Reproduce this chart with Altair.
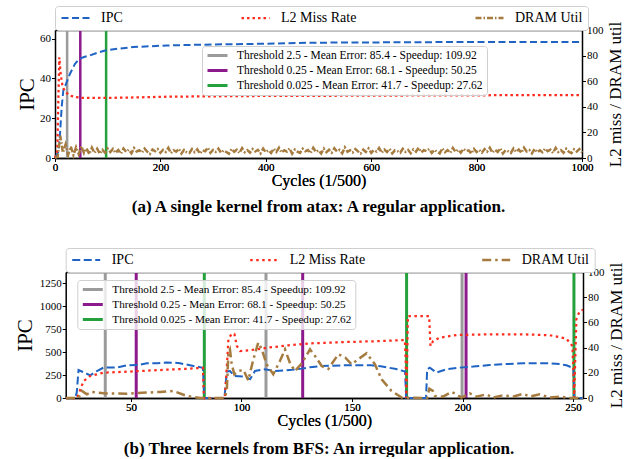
import altair as alt
import pandas as pd

FONT = "Liberation Serif"

SERIES = ["IPC", "L2 Miss Rate", "DRAM Util"]
SERIES_COLORS = ["#1f64c4", "#ff2b1c", "#a67b3f"]
THRESHOLDS = [
    "Threshold 2.5 - Mean Error: 85.4 - Speedup: 109.92",
    "Threshold 0.25 - Mean Error: 68.1 - Speedup: 50.25",
    "Threshold 0.025 - Mean Error: 41.7 - Speedup: 27.62",
]
THR_COLORS = ["#9b9b9b", "#8c1a8c", "#24a13c"]

# ---------------- panel (a): atax ----------------
a_ipc_x = [0, 6, 8, 9.5, 12.7, 15.8, 20.9, 28.5, 38, 46, 55, 66, 80, 95, 120, 148, 180, 212,
           260, 320, 400, 480, 560, 640, 720, 800, 900, 1000]
a_ipc_y = [0, 3, 7, 12, 25.7, 34, 37.3, 42.4, 47.4, 49.8, 50.8, 51.6, 52.9, 54.1, 55.0, 55.8,
           56.2, 56.6, 56.9, 57.2, 57.5, 58.0, 58.1, 58.2, 58.3, 58.3, 58.3, 58.3]
a_l2_x = [0, 4.4, 6, 8.2, 10.8, 14.6, 19, 23, 28.5, 40, 53.7, 91.7, 150, 212, 300, 400, 500,
          600, 700, 800, 900, 1000]
a_l2_y = [0, 5.7, 40, 78.6, 65.6, 55.2, 52.6, 50.5, 48.7, 47.5, 46.9, 46.9, 47.3, 47.9, 48.2,
          48.5, 48.6, 48.7, 48.9, 49.0, 49.1, 49.2]
a_dram_x = list(range(0, 1001, 5))
a_dram_y = [
    0, 1.0, 17.5, 4.2, 10.5, 2.6, 9.0, 2.2, 8.4, 3.1, 9.2, 3.8, 7.5, 2.9, 8.1, 4.0, 7.2, 3.3, 6.4, 4.1, 7.3,
    4.6, 7.1, 3.9, 6.2, 3.4, 7.4, 4.8, 6.5, 3.7, 7.8,
    5.1, 6.0, 4.2, 7.3, 4.9, 3.2, 6.6, 5.3, 7.0, 4.1,
    6.3, 4.7, 7.9, 3.8, 6.1, 5.0, 7.2, 3.5, 6.4, 4.4,
    3.9, 7.0, 4.6, 6.8, 3.3, 6.0, 5.2, 8.1, 4.0, 6.3,
    4.8, 7.3, 4.1, 5.9, 4.7, 3.4, 7.1, 4.9, 6.5, 3.8,
    7.7, 4.6, 6.2, 4.2, 7.0, 5.1, 6.4, 3.6, 7.3, 4.5,
    6.0, 3.9, 7.4, 4.8, 8.0, 4.3, 6.1, 5.0, 7.5, 3.4,
    6.6, 4.9, 4.0, 7.2, 5.3, 6.2, 3.8, 7.9, 4.7, 6.0,
    3.5, 7.3, 4.6, 6.4, 4.2, 7.6, 5.0, 6.3, 3.7, 8.2,
    4.9, 6.1, 4.3, 7.0, 5.2, 3.5, 6.5, 4.8, 7.4, 4.0,
    6.2, 5.1, 7.8, 4.1, 6.6, 4.7, 7.1, 3.6, 6.0, 5.3,
    4.1, 7.2, 4.8, 6.3, 3.7, 6.7, 5.0, 8.0, 4.4, 6.1,
    5.3, 7.0, 3.9, 6.4, 4.9, 3.6, 7.5, 4.6, 6.2, 4.0,
    7.9, 4.8, 6.5, 4.1, 7.2, 5.4, 6.0, 3.4, 7.1, 4.6,
    6.3, 4.2, 7.0, 5.0, 8.1, 4.1, 6.4, 4.8, 7.6, 3.5,
    6.1, 5.2, 3.9, 7.4, 4.7, 6.6, 4.0, 8.0, 5.1, 6.2,
    3.6, 7.1, 4.4, 6.0, 4.5, 7.3, 5.3, 6.5, 3.9, 7.9,
    4.7, 6.2, 4.1, 7.2, 4.9, 3.8, 6.8, 5.0, 7.0, 4.3,
]
a_thr_x = [23, 48, 97]
a_thr_label = THRESHOLDS

# ---------------- panel (b): BFS ----------------
b_ipc_x = [20.6, 24.8, 25.5, 26.3, 28.3, 31.6, 34.6, 37.6, 43.6, 48.2, 53.4, 57.2, 62, 66.2, 70,
           72.2, 75, 78.3, 82.1, 82.6, 83.2, 92.3, 93.4, 94.8, 96.8, 101.6, 103.9, 106.1, 110.7,
           115.2, 119.7, 123, 127.2, 131, 136.3, 146.8, 152, 158.9, 163, 166.4, 170, 173.2, 174.0,
           174.5, 183.5, 184, 185.2, 188.2, 192.8, 198.8, 204.8, 212.3, 220, 227.4, 235, 239.5,
           244, 247, 249.7, 250.2, 250.6, 254.5]
b_ipc_y = [0, 0, 60, 305, 283, 247, 294, 331, 331, 356, 360, 378, 380, 386, 384, 378, 365, 349,
           331, 320, 0, 0, 290, 294, 240, 233, 204, 294, 313, 294, 302, 308, 320, 335, 349, 356,
           358, 356, 345, 331, 315, 294, 290, 0, 0, 313, 331, 277, 313, 331, 342, 360, 370, 378,
           378, 378, 370, 356, 331, 320, 0, 0]
b_l2_x = [20.6, 25.5, 26.5, 27.1, 28.6, 31.6, 37.6, 48.2, 63.2, 75, 81.3, 82.6, 83.0, 92.5, 93.4,
          94.1, 95.6, 96.8, 97.9, 99.4, 104.6, 112.2, 121.2, 131.8, 146.8, 163.4, 173.9, 174.3,
          174.6, 175.3, 180, 184.9, 185.5, 186.7, 189.7, 197.3, 212.3, 227.4, 239.5, 247, 249.7,
          250.2, 250.5, 251.5, 253, 254.5]
b_l2_y = [0, 0, 3, 6.9, 13.5, 17.5, 20.1, 20.9, 22.2, 23.2, 23.8, 24, 0, 0, 25, 46.6, 51.1, 50.8,
          41.3, 37.3, 38.1, 40, 41.8, 43.4, 44.4, 45.2, 46, 30, 0, 65, 65, 65, 41.3, 45.2, 47.9,
          50, 50.5, 50.5, 49.8, 47.1, 41.3, 20, 0, 62.5, 69, 70]
b_dram_x = [20.6, 26.3, 27.8, 30.1, 32.3, 37.6, 48.2, 57.2, 63.2, 69.2, 75.3, 81.3, 92.5, 93.4,
            94.1, 94.8, 95.6, 96.8, 98.6, 100.9, 103.1, 105.4, 107.6, 109.2, 111.4, 114.4, 117.4,
            119.7, 122, 124.2, 127.3, 131, 133.3, 136.3, 139.3, 143.8, 147, 149.8, 152.8, 156.6,
            160.4, 163.4, 167.9, 172.5, 184, 185, 186.6, 187.5, 191.2, 195, 197.3, 199.5, 203.3,
            206.3, 210.8, 213.8, 218.3, 222.8, 227.4, 230.4, 234.9, 239.5, 244, 248.5, 254.5]
b_dram_y = [0, 0, 5.6, 2.9, 4.8, 3.7, 3.4, 4.3, 4.8, 5.6, 1.6, 0, 0, 6.9, 36, 38.6, 26.7, 18.8,
            21.4, 22.2, 14, 30.7, 44, 38.6, 26.7, 18.8, 29.4, 38.6, 27.5, 21.4, 27.5, 38.6, 33.3,
            25.4, 23, 34.7, 32, 26.7, 30.7, 35.5, 26.7, 14.8, 5.6, 0.3, 0, 7.4, 5.6, 1.6, 1.1, 4.8,
            2.9, 0.3, 3.7, 1.1, 2.9, 0.3, 2.2, 1.1, 3.4, 1.1, 2.9, 0.3, 1.1, 0, 0]
b_thr_x = [38.4, 111.1, 199.8, 52.4, 127.7, 201.6, 83.2, 174.7, 250.4]
b_thr_label = [THRESHOLDS[0]] * 3 + [THRESHOLDS[1]] * 3 + [THRESHOLDS[2]] * 3


def make_panel(ipc_x, ipc_y, l2_x, l2_y, dram_x, dram_y, thr_x, thr_label,
               xdomain, xticks, ymax, yticks, width, inset, height, dashes, widths,
               caption, thr_leg_xy, ytitle_pad, rule_width, col_pad, cap_offset, thr_font):
    left_df = pd.DataFrame({"x": ipc_x, "v": ipc_y, "series": "IPC"})
    right_df = pd.concat([
        pd.DataFrame({"x": l2_x, "v": l2_y, "series": "L2 Miss Rate"}),
        pd.DataFrame({"x": dram_x, "v": dram_y, "series": "DRAM Util"}),
    ])
    thr_df = pd.DataFrame({"x": thr_x, "label": thr_label})

    top_legend = alt.Legend(
        title=None, orient="none", legendX=inset, legendY=-24, direction="horizontal",
        columns=3, symbolType="stroke", symbolSize=784, clipHeight=14,
        columnPadding=col_pad, labelOffset=10, labelFontSize=14, labelFont=FONT,
        labelColor="black", strokeColor="#cfcfcf", fillColor="white",
        padding=5, cornerRadius=3)

    xscale = alt.Scale(domain=xdomain, nice=False, zero=False, range=[inset, width])
    xenc = alt.X("x:Q", scale=xscale,
                 axis=alt.Axis(values=xticks, title="Cycles (1/500)", titleFontSize=16,
                               titlePadding=0, format="d", labelFlush=False,
                               labelPadding=0))
    xtop = alt.X("x:Q", scale=xscale,
                 axis=alt.Axis(orient="top", labels=False, ticks=False, title=None))
    color = alt.Color("series:N", scale=alt.Scale(domain=SERIES, range=SERIES_COLORS),
                      legend=top_legend)
    dash = alt.StrokeDash("series:N", scale=alt.Scale(domain=SERIES, range=dashes),
                          legend=top_legend)
    sw = alt.StrokeWidth("series:N", scale=alt.Scale(domain=SERIES, range=widths),
                         legend=top_legend)

    rules = alt.Chart(thr_df).mark_rule(strokeWidth=rule_width).encode(
        x=xtop,
        stroke=alt.Stroke("label:N", scale=alt.Scale(domain=THRESHOLDS, range=THR_COLORS),
                          legend=alt.Legend(
                              title=None, orient="none", legendX=thr_leg_xy[0],
                              legendY=thr_leg_xy[1], symbolType="stroke", symbolSize=400,
                              symbolStrokeWidth=3, clipHeight=11, rowPadding=3,
                              labelOffset=8, labelFontSize=thr_font, labelFont=FONT,
                              labelColor="black", labelLimit=400,
                              strokeColor="#cfcfcf", fillColor="rgba(255,255,255,0.8)",
                              padding=4, cornerRadius=3)),
    )

    left = alt.Chart(left_df).mark_line(strokeCap="butt").encode(
        x=xenc,
        y=alt.Y("v:Q", scale=alt.Scale(domain=[0, ymax], nice=False),
                axis=alt.Axis(values=yticks, title="IPC", titleFontSize=21, format="d",
                              titlePadding=ytitle_pad, orient="left", labelPadding=1,
                              offset=-inset)),
        color=color, strokeDash=dash, strokeWidth=sw,
    )
    right = alt.Chart(right_df).mark_line(strokeCap="butt").encode(
        x=xenc,
        y=alt.Y("v:Q", scale=alt.Scale(domain=[0, 100], nice=False),
                axis=alt.Axis(values=[0, 20, 40, 60, 80, 100], title="L2 miss / DRAM util",
                              titleFontSize=17, titleAngle=270, titleBaseline="top",
                              titlePadding=4, orient="right", labelPadding=1)),
        color=color, strokeDash=dash, strokeWidth=sw,
        detail="series:N",
    )
    return alt.layer(rules, left, right).resolve_scale(y="independent").resolve_axis(
        x="independent").properties(
        width=width, height=height,
        title=alt.TitleParams(caption, orient="bottom", anchor="middle", font=FONT,
                              fontSize=17, fontWeight="bold", color="black",
                              offset=cap_offset),
    )


panel_a = make_panel(
    a_ipc_x, a_ipc_y, a_l2_x, a_l2_y, a_dram_x, a_dram_y, a_thr_x, a_thr_label,
    [0, 1000], [0, 200, 400, 600, 800, 1000], 64.4, [0, 20, 40, 60], 527, 0, 128,
    [[7, 3.5], [2.5, 3], [6, 2, 1.5, 2]], [2, 2.5, 1.5],
    "(a) A single kernel from atax: A regular application.", (147, 16), 2, 2.5, 117, 10, 11.5)

panel_b = make_panel(
    b_ipc_x, b_ipc_y, b_l2_x, b_l2_y, b_dram_x, b_dram_y, b_thr_x, b_thr_label,
    [20.5, 254.5], [50, 100, 150, 200, 250], 1373, [0, 250, 500, 750, 1000, 1250], 528, 10.7,
    126, [[8, 3.5], [2.5, 3.5], [9, 4, 2.5, 4]], [2, 2.5, 3],
    "(b) Three kernels from BFS: An irregular application.", (22.3, 8), 4, 3, 115, 12, 11.2)

chart = alt.vconcat(panel_a, panel_b, spacing=32).resolve_scale(
    color="independent", strokeDash="independent", strokeWidth="independent",
    stroke="independent", x="independent", y="independent",
).properties(
    padding={"left": 13, "top": 5, "right": 4, "bottom": 0},
).configure(font=FONT).configure_view(
    stroke="transparent"
).configure_axis(
    domainColor="black", domainWidth=1.5, tickColor="black", tickWidth=1, tickSize=3.5,
    labelColor="black", titleColor="black", grid=False, labelFont=FONT, titleFont=FONT,
    titleFontWeight="normal", labelFontSize=11,
)

chart.save("out.html", embed_options={"renderer": "svg", "actions": False})
